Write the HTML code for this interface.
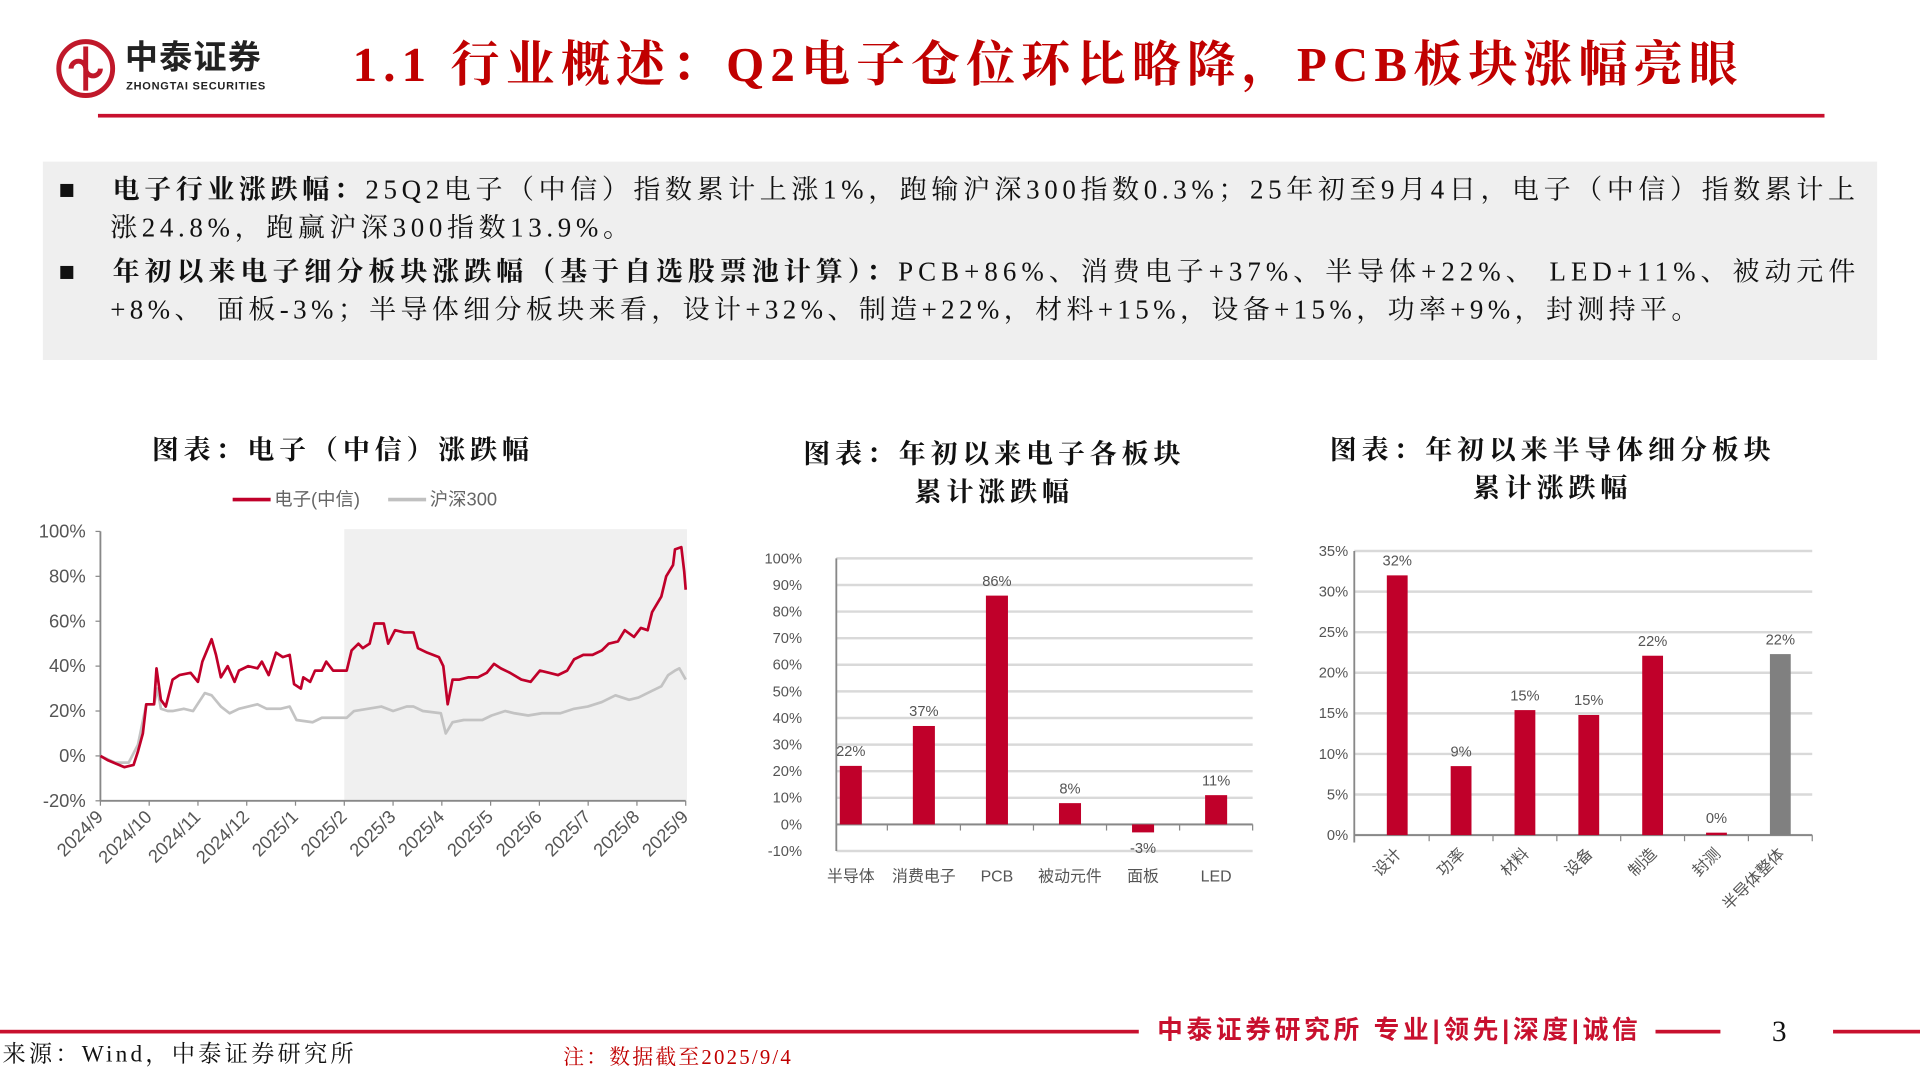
<!DOCTYPE html>
<html><head><meta charset="utf-8">
<style>
html,body{margin:0;padding:0;background:#fff;width:1920px;height:1080px;overflow:hidden}
#wrap{position:absolute;left:0;top:0;width:1568px;height:882px;transform:scale(1.22449);transform-origin:0 0;font-family:"Liberation Serif","Noto Serif CJK SC",serif}
.abs{position:absolute}
.body{font-size:22px;color:#111;line-height:31px;white-space:nowrap}
.ct{font-family:"Liberation Serif","Noto Serif CJK SC",serif;font-weight:bold;font-size:22px;color:#111;text-align:center;line-height:31px;letter-spacing:4px}
svg text{font-family:"Liberation Sans","Noto Sans CJK SC",sans-serif}
</style></head><body>
<div id="wrap">
 <svg class="abs" style="left:44px;top:30px" width="52" height="52">
  <circle cx="26" cy="26" r="22" fill="none" stroke="#c0182a" stroke-width="4"/>
  <path d="M26 8 V44 M14 26 a6 6 0 1 1 12 0 a6 6 0 1 0 12 0" fill="none" stroke="#c0182a" stroke-width="4"/>
 </svg>
 <div class="abs" style="left:102px;top:32px;font-family:'Liberation Sans','Noto Sans CJK SC',sans-serif;font-weight:bold;font-size:27px;line-height:30px;color:#222;letter-spacing:1px">中泰证券</div>
 <div class="abs" style="left:103px;top:65px;font-family:'Liberation Sans',sans-serif;font-weight:bold;font-size:9px;color:#222;letter-spacing:0.6px">ZHONGTAI SECURITIES</div>
 <div class="abs" style="left:288px;top:28px;font-size:40px;font-weight:bold;color:#c00000;line-height:50px;white-space:nowrap;letter-spacing:5px">1.1 行业概述：Q2电子仓位环比略降，PCB板块涨幅亮眼</div>
 <div class="abs" style="left:80px;top:93px;width:1410px;height:3px;background:#c8102e"></div>

 <div class="abs" style="left:35px;top:132px;width:1498px;height:162px;background:#efefef"></div>
 <div class="abs body" style="left:48px;top:139px;width:1480px">
  <span style="position:absolute;left:0">■</span>
  <div style="padding-left:44px;letter-spacing:3.8px">
  <b>电子行业涨跌幅：</b>25Q2电子（中信）指数累计上涨1%，跑输沪深300指数0.3%；25年初至9月4日，电子（中信）指数累计上</div>
  <div style="padding-left:42px;letter-spacing:3.8px">涨24.8%，跑赢沪深300指数13.9%。</div>
 </div>
 <div class="abs body" style="left:48px;top:206px;width:1480px">
  <span style="position:absolute;left:0">■</span>
  <div style="padding-left:44px;letter-spacing:4.1px"><b>年初以来电子细分板块涨跌幅（基于自选股票池计算）：</b>PCB+86%、消费电子+37%、半导体+22%、 LED+11%、被动元件</div>
  <div style="padding-left:42px;letter-spacing:3.6px">+8%、 面板-3%；半导体细分板块来看，设计+32%、制造+22%，材料+15%，设备+15%，功率+9%，封测持平。</div>
 </div>

 <div class="abs ct" style="left:80px;top:352px;width:400px">图表：电子（中信）涨跌幅</div>
 <div class="abs ct" style="left:612px;top:355px;width:400px">图表：年初以来电子各板块<br>累计涨跌幅</div>
 <div class="abs ct" style="left:1068px;top:352px;width:400px">图表：年初以来半导体细分板块<br>累计涨跌幅</div>

 <svg class="abs" id="c1" style="left:0;top:390px" width="600" height="340"></svg>
 <svg class="abs" id="c2" style="left:600px;top:440px" width="450" height="300"></svg>
 <svg class="abs" id="c3" style="left:1050px;top:435px" width="450" height="330"></svg>

 <div class="abs" style="left:0;top:841px;width:930px;height:3px;background:#c8102e"></div>
 <div class="abs" style="left:945px;top:827px;font-family:'Liberation Sans','Noto Sans CJK SC',sans-serif;font-weight:bold;font-size:21px;color:#c8102e;line-height:30px;white-space:nowrap;letter-spacing:3px">中泰证券研究所 专业|领先|深度|诚信</div>
 <div class="abs" style="left:1352px;top:841px;width:53px;height:3px;background:#c8102e"></div>
 <div class="abs" style="left:1447px;top:830px;font-size:24px;color:#111">3</div>
 <div class="abs" style="left:1497px;top:841px;width:71px;height:3px;background:#c8102e"></div>
 <div class="abs" style="left:2px;top:846px;font-size:19px;color:#111;white-space:nowrap;letter-spacing:2.6px">来源：Wind，中泰证券研究所</div>
 <div class="abs" style="left:460px;top:849px;font-size:17px;color:#c00000;white-space:nowrap;letter-spacing:1.8px">注：数据截至2025/9/4</div>
</div>
<script>
// ---------- chart 1 data ----------
const monthLabels=["2024/9","2024/10","2024/11","2024/12","2025/1","2025/2","2025/3","2025/4","2025/5","2025/6","2025/7","2025/8","2025/9"];
const yTicks1=[100,80,60,40,20,0,-20];
const redT=[0,0.16,0.49,0.68,0.77,0.87,0.94,1.10,1.15,1.24,1.34,1.48,1.62,1.85,2.00,2.09,2.28,2.37,2.47,2.61,2.75,2.84,3.03,3.22,3.31,3.45,3.60,3.74,3.88,3.97,4.11,4.16,4.30,4.40,4.54,4.63,4.77,5.05,5.15,5.29,5.38,5.52,5.62,5.81,5.90,6.04,6.23,6.42,6.51,6.70,6.94,7.03,7.12,7.22,7.36,7.55,7.74,7.92,8.07,8.21,8.40,8.63,8.82,9.01,9.20,9.38,9.57,9.71,9.90,10.09,10.28,10.42,10.61,10.75,10.94,11.08,11.22,11.31,11.50,11.60,11.74,11.78,11.91,11.97,12];
const redV=[0,-2,-5,-4,2,10,23,23,39,25,22,34,36,37,33,42,52,45,35,40,33,38,40,39,42,36,46,44,45,32,30,35,33,38,38,42,38,38,47,50,48,50,59,59,50,56,55,55,48,46,44,40,23,34,34,35,35,37,41,39,37,34,33,38,37,36,38,43,45,45,47,50,51,56,53,57,56,64,71,80,85,92,93,82,74];
const grayT=[0,0.30,0.58,0.77,0.94,1.10,1.17,1.24,1.38,1.48,1.71,1.90,2.14,2.28,2.47,2.65,2.84,3.22,3.41,3.69,3.88,4.02,4.35,4.54,5.05,5.20,5.48,5.76,6.00,6.28,6.42,6.61,6.98,7.08,7.22,7.45,7.83,8.02,8.30,8.49,8.77,9.05,9.43,9.71,9.99,10.28,10.56,10.84,11.03,11.31,11.50,11.64,11.78,11.87,12];
const grayV=[0,-3,-3,5,23,23,30,21,20,20,21,20,28,27,22,19,21,23,21,21,22,16,15,17,17,20,21,22,20,22,22,20,19,10,15,16,16,18,20,19,18,19,19,21,22,24,27,25,26,29,31,36,38,39,34];
const shadeStart=5;
// ---------- chart 2 data ----------
const cats2=["半导体","消费电子","PCB","被动元件","面板","LED"];
const vals2=[22,37,86,8,-3,11];
const yTicks2=[100,90,80,70,60,50,40,30,20,10,0,-10];
// ---------- chart 3 data ----------
const cats3=["设计","功率","材料","设备","制造","封测","半导体整体"];
const vals3=[32,8.5,15.4,14.8,22.1,0.3,22.3];
const labels3=["32%","9%","15%","15%","22%","0%","22%"];
const yTicks3=[35,30,25,20,15,10,5,0];

const NS="http://www.w3.org/2000/svg";
function mk(svg,tag,attrs,txt){const e=document.createElementNS(NS,tag);for(const k in attrs)e.setAttribute(k,attrs[k]);if(txt!==undefined)e.textContent=txt;svg.appendChild(e);return e;}

(function(){
 const s=document.getElementById('c1');
 const x0=82,x1=560,yTop=434-390,yBot=654-390;
 const X=t=>x0+t*(x1-x0)/12;
 const Y=v=>yTop+(100-v)*(yBot-yTop)/120;
 let r=mk(s,'rect',{x:X(shadeStart),y:Y(101),width:X(12)-X(shadeStart)+1,height:Y(-20)-Y(101),fill:'#f0f0f0'});
 
 
 let l=mk(s,'line',{x1:190,x2:221,y1:18,y2:18,stroke:'#c0002a','stroke-width':3});
 
 
 let lt=mk(s,'text',{x:224,y:23,'font-size':15,fill:'#666'},'电子(中信)');
 
 
 let l2=mk(s,'line',{x1:317,x2:348,y1:18,y2:18,stroke:'#c0c0c0','stroke-width':3});
 
 
 let lt2=mk(s,'text',{x:351,y:23,'font-size':15,fill:'#666'},'沪深300');
 
 
 let ya=mk(s,'line',{x1:x0,x2:x0,y1:yTop,y2:yBot,stroke:'#888','stroke-width':1.5});
 
 
 yTicks1.forEach(v=>{
  mk(s,'line',{x1:x0-4,x2:x0,y1:Y(v),y2:Y(v),stroke:'#888'});
  let t=mk(s,'text',{x:x0-12,y:Y(v)+5,'text-anchor':'end','font-size':15,fill:'#555'},v+'%');
  
  
 });
 let xa=mk(s,'line',{x1:x0,x2:x1,y1:yBot,y2:yBot,stroke:'#888','stroke-width':1.5});
 
 
 monthLabels.forEach((m,i)=>{
  const x=X(i);
  mk(s,'line',{x1:x,x2:x,y1:yBot,y2:yBot+4,stroke:'#888'});
  let t=mk(s,'text',{x:x+3,y:yBot+14,'text-anchor':'end','font-size':15,fill:'#555',transform:`rotate(-45 ${x+3} ${yBot+14})`},m);
  
  
 });
 let gp=mk(s,'polyline',{points:grayT.map((t,i)=>X(t)+','+Y(grayV[i])).join(' '),fill:'none',stroke:'#c3c3c3','stroke-width':2.2,'stroke-linejoin':'round'});
 
 
 let rp=mk(s,'polyline',{points:redT.map((t,i)=>X(t)+','+Y(redV[i])).join(' '),fill:'none',stroke:'#c0002a','stroke-width':2.2,'stroke-linejoin':'round'});
 
 
})();

function barChart(id,cats,vals,labels,ticks,opt){
 const s=document.getElementById(id);
 const {ax,bx0,bx1,gx1,top,bot,max,min,bw,rot,lblX}=opt;
 const Y=v=>top+(max-v)*(bot-top)/(max-min);
 const band=(bx1-bx0)/cats.length;
 ticks.forEach(v=>{
  let g=mk(s,'line',{x1:ax,x2:gx1,y1:Y(v),y2:Y(v),stroke:'#d9d9d9','stroke-width':2});
  
  
  let t=mk(s,'text',{x:lblX,y:Y(v)+4,'text-anchor':'end','font-size':12,fill:'#555'},v+'%');
  
  
 });
 let ya=mk(s,'line',{x1:ax,x2:ax,y1:top,y2:Y(min)+(rot?6:0),stroke:'#888','stroke-width':1.5});
 
 
 let xa=mk(s,'line',{x1:ax,x2:gx1,y1:Y(0),y2:Y(0),stroke:'#888','stroke-width':1.5});
 
 
 cats.forEach((c,i)=>{
  const cx=bx0+band*(i+0.5),v=vals[i];
  mk(s,'line',{x1:bx0+band*(i+1),x2:bx0+band*(i+1),y1:Y(0),y2:Y(0)+5,stroke:'#888'});
  const color=(opt.grayLast&&i===cats.length-1)?'#808080':'#c0002a';
  let b=mk(s,'rect',{x:cx-bw/2,y:Math.min(Y(v),Y(0)),width:bw,height:Math.abs(Y(v)-Y(0)),fill:color});
  
  
  const ly=v>=0?Y(v)-8:Y(v)+17;
  let lb=mk(s,'text',{x:cx,y:ly,'text-anchor':'middle','font-size':12,fill:'#555'},labels[i]);
  
  
  let ct;
  if(rot){ct=mk(s,'text',{x:cx+4,y:Y(0)+16,'text-anchor':'end','font-size':13,fill:'#555',transform:`rotate(-45 ${cx+4} ${Y(0)+16})`},c);}
  else{ct=mk(s,'text',{x:cx,y:Y(min)+25,'text-anchor':'middle','font-size':13,fill:'#555'},c);}
  
  
 });
}
barChart('c2',cats2,vals2,vals2.map(v=>v+'%'),yTicks2,{ax:83,bx0:65,bx1:423,gx1:423,top:16,bot:255,max:100,min:-10,bw:18,lblX:55});
barChart('c3',cats3,vals3,labels3,yTicks3,{ax:56,bx0:65,bx1:430,gx1:430,top:15,bot:247,max:35,min:0,bw:17,rot:true,grayLast:true,lblX:51});
</script>
</body></html>
